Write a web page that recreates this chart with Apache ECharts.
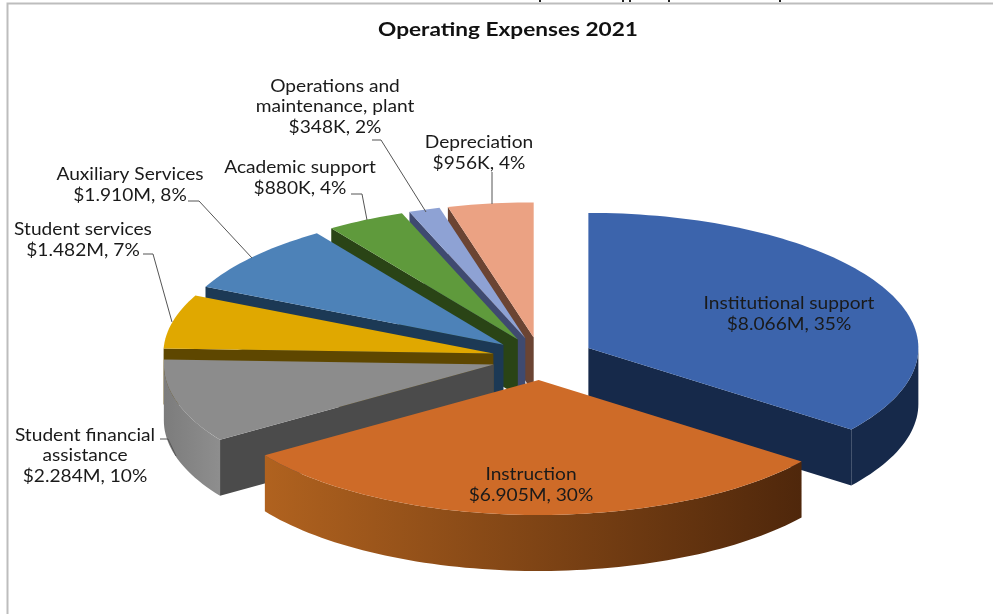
<!DOCTYPE html>
<html>
<head>
<meta charset="utf-8">
<style>html,body{margin:0;padding:0;background:#fff}#c{width:993px;height:614px}</style>
<script src="https://cdn.jsdelivr.net/npm/echarts@6/dist/echarts.min.js"></script>
</head>
<body>
<div id="c"></div>
<script>
// ---- data (clockwise from 12 o'clock) ----
const chartTitle = 'Operating Expenses 2021';
const categories = ['Institutional support','Instruction','Student financial assistance','Student services','Auxiliary Services','Academic support','Operations and maintenance, plant','Depreciation'];
const valuesK = [8066, 6905, 2284, 1482, 1910, 880, 348, 956];
const valueLabels = ['$8.066M','$6.905M','$2.284M','$1.482M','$1.910M','$880K','$348K','$956K'];
const percentLabels = ['35%','30%','10%','7%','8%','4%','2%','4%'];
const explode = [54, 48, 48, 48, 48, 48, 48, 48];

// ---- style and layout ----
const topColors = ['#3C64AC','#CE6B28','#8C8C8C','#E0A800','#4D82B8','#5F9A3C','#8EA2D4','#EBA283'];
const cutColors = ['#16294A','#532A0C','#4B4B4B','#5E4700','#1C3955','#2A4416','#3F4A70','#6B4433'];
const wallStops = [['#16294A','#16294A'],['#B0621F','#4F270B'],['#7C7C7C','#8E8E8E'],['#5E4700','#5E4700'],['#1C3955','#1C3955'],['#2A4416','#2A4416'],['#3F4A70','#3F4A70'],['#6B4433','#6B4433']];
const paintOrder = [7, 6, 5, 4, 3, 2, 0, 1];
const labelLines = [
  ['Institutional support'],['Instruction'],['Student financial','assistance'],['Student services'],
  ['Auxiliary Services'],['Academic support'],['Operations and','maintenance, plant'],['Depreciation']
];
const labelAnchor = [[789,314],[531,485],[85,456],[83,240],[130,185],[300,178],[335,107],[479,153]];
const leaders = [null,null,
  [[160,439],[168,439],[176,456]],
  [[143,254],[153,254],[172,322]],
  [[188,201],[199,201],[252,258]],
  [[351,194],[362,194],[367,220]],
  [[372,140],[381,140],[426,212]],
  [[492,172],[492,204]]
];
const clippedTextBits = [540, 623, 630, 669, 780];
const CX = 540, CY = 358.6, RX = 330, RY = 135, DEPTH = 56, YRATIO = 0.446;
const FONT = 'Lato';
const STRETCH = 1.16;

const total = valuesK.reduce((a, b) => a + b, 0);
const rad = d => d * Math.PI / 180;
function slice(i) {
  let sum = 0;
  for (let k = 0; k < i; k++) sum += valuesK[k];
  const a0 = sum / total * 360, a1 = (sum + valuesK[i]) / total * 360, mid = (a0 + a1) / 2;
  const tx = CX + Math.sin(rad(mid)) * explode[i];
  const ty = CY - Math.cos(rad(mid)) * explode[i] * YRATIO;
  const pt = a => [tx + RX * Math.sin(rad(a)), ty - RY * Math.cos(rad(a))];
  const arc = (s, e) => { const out = [], n = Math.max(2, Math.ceil((e - s) / 1.5)); for (let j = 0; j <= n; j++) out.push(pt(s + (e - s) * j / n)); return out; };
  return {a0, a1, tx, ty, pt, arc};
}
const down = p => [p[0], p[1] + DEPTH];

function renderSlice(params, api) {
  const i = api.value(0), s = slice(i), kids = [];
  const wa = Math.max(s.a0, 90), wb = Math.min(s.a1, 270);
  if (wb > wa) {
    const a = s.arc(wa, wb);
    kids.push({type:'polygon', shape:{points:a.concat(a.slice().reverse().map(down))},
      style:{fill:new echarts.graphic.LinearGradient(0,0,1,0,[{offset:0,color:wallStops[i][0]},{offset:1,color:wallStops[i][1]}])}});
  }
  const edge = s.a0 >= 180 ? s.a0 : (s.a1 <= 180 ? s.a1 : null);
  if (edge !== null) {
    const tip = [s.tx, s.ty], o = s.pt(edge);
    kids.push({type:'polygon', shape:{points:[tip, o, down(o), down(tip)]}, style:{fill:cutColors[i]}});
  }
  kids.push({type:'polygon', shape:{points:[[s.tx, s.ty]].concat(s.arc(s.a0, s.a1))}, style:{fill:topColors[i]}});
  return {type:'group', children:kids};
}

function renderLabel(params, api) {
  const i = api.value(0), kids = [];
  const lines = labelLines[i].concat([valueLabels[i] + ', ' + percentLabels[i]]);
  kids.push({type:'text', x:labelAnchor[i][0], y:labelAnchor[i][1], scaleX:STRETCH, scaleY:1,
    style:{text:lines.join('\n'), x:0, y:0,
      align:'center', verticalAlign:'middle', font:'16.5px ' + FONT, lineHeight:20.5, fill:'#1a1a1a'}});
  if (leaders[i]) kids.push({type:'polyline', shape:{points:leaders[i]}, style:{fill:'none', stroke:'#555', lineWidth:1}});
  return {type:'group', children:kids};
}

const chart = echarts.init(document.getElementById('c'), null, {renderer:'canvas'});
chart.setOption({
  animation:false,
  backgroundColor:'#fff',
  graphic:[
    {type:'polyline', silent:true, shape:{points:[[7.5,614],[7.5,3.5],[993,3.5]]}, style:{fill:'none', stroke:'#BDBDBD', lineWidth:2}},
    {type:'text', silent:true, x:508, y:30, scaleX:STRETCH, scaleY:1,
      style:{text:chartTitle, x:0, y:0, align:'center', verticalAlign:'middle', font:'bold 19.5px ' + FONT, fill:'#111'}}
  ].concat(clippedTextBits.map(x => ({type:'rect', silent:true, shape:{x:x-1, y:0, width:2, height:2}, style:{fill:'#222'}}))),
  series:[
    {type:'custom', coordinateSystem:'none', renderItem:renderSlice, data:paintOrder.map(i => [i, valuesK[i]]), z:2, silent:true},
    {type:'custom', coordinateSystem:'none', renderItem:renderLabel, data:paintOrder.map(i => [i, valuesK[i]]), z:3, silent:true}
  ]
});
</script>
</body>
</html>
